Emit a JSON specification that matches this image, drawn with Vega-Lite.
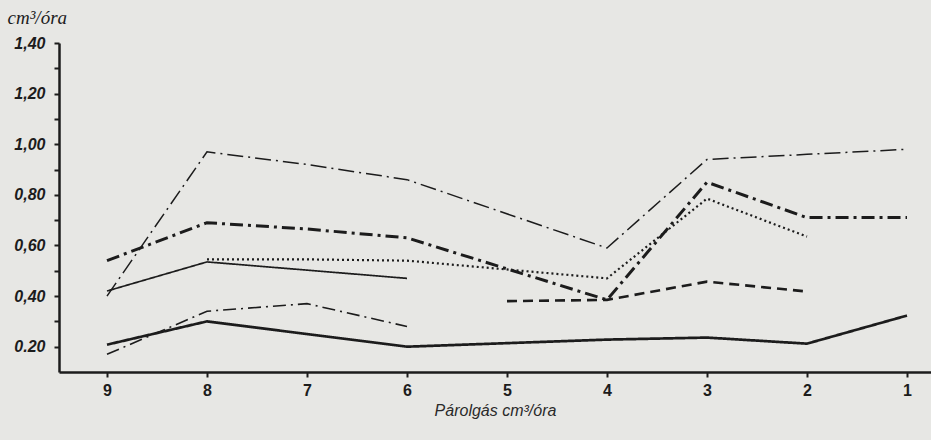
{
  "$schema": "https://vega.github.io/schema/vega-lite/v6.json",
  "width": 872,
  "height": 329,
  "autosize": {"type": "none"},
  "padding": {"left": 59, "top": 43, "right": 0, "bottom": 68},
  "background": "#e7e7e4",
  "config": {"view": {"stroke": null}},
  "data": {"values": [
    {"series": "A", "x": 9, "y": 0.40},
    {"series": "A", "x": 8, "y": 0.97},
    {"series": "A", "x": 7, "y": 0.92},
    {"series": "A", "x": 6, "y": 0.86},
    {"series": "A", "x": 4, "y": 0.59},
    {"series": "A", "x": 3, "y": 0.94},
    {"series": "A", "x": 2, "y": 0.96},
    {"series": "A", "x": 1, "y": 0.98},
    {"series": "B", "x": 9, "y": 0.54},
    {"series": "B", "x": 8, "y": 0.69},
    {"series": "B", "x": 7, "y": 0.665},
    {"series": "B", "x": 6, "y": 0.63},
    {"series": "B", "x": 4, "y": 0.385},
    {"series": "B", "x": 3, "y": 0.85},
    {"series": "B", "x": 2, "y": 0.71},
    {"series": "B", "x": 1, "y": 0.71},
    {"series": "C", "x": 8, "y": 0.545},
    {"series": "C", "x": 7, "y": 0.545},
    {"series": "C", "x": 6, "y": 0.54},
    {"series": "C", "x": 4, "y": 0.47},
    {"series": "C", "x": 3, "y": 0.785},
    {"series": "C", "x": 2, "y": 0.635},
    {"series": "D", "x": 9, "y": 0.42},
    {"series": "D", "x": 8, "y": 0.535},
    {"series": "D", "x": 6, "y": 0.47},
    {"series": "E", "x": 9, "y": 0.17},
    {"series": "E", "x": 8, "y": 0.34},
    {"series": "E", "x": 7, "y": 0.37},
    {"series": "E", "x": 6, "y": 0.28},
    {"series": "F", "x": 5, "y": 0.38},
    {"series": "F", "x": 4, "y": 0.385},
    {"series": "F", "x": 3, "y": 0.457},
    {"series": "F", "x": 2, "y": 0.418},
    {"series": "G", "x": 9, "y": 0.208},
    {"series": "G", "x": 8, "y": 0.30},
    {"series": "G", "x": 6, "y": 0.20},
    {"series": "G", "x": 4, "y": 0.228},
    {"series": "G", "x": 3, "y": 0.236},
    {"series": "G", "x": 2, "y": 0.212},
    {"series": "G", "x": 1, "y": 0.323}
  ]},
  "mark": {"type": "line", "color": "#1c1c1c", "strokeCap": "butt", "strokeJoin": "miter", "clip": false},
  "encoding": {
    "x": {
      "field": "x", "type": "quantitative",
      "scale": {"domain": [0.76, 9.48], "reverse": true, "nice": false, "zero": false},
      "axis": {
        "values": [1, 2, 3, 4, 5, 6, 7, 8, 9],
        "grid": false,
        "domainColor": "#1c1c1c", "domainWidth": 2.5,
        "tickColor": "#1c1c1c", "tickWidth": 2, "tickSize": 5,
        "labelFont": "Liberation Sans", "labelFontSize": 16, "labelFontWeight": "bold", "labelColor": "#1c1c1c",
        "labelPadding": 5,
        "title": "Párolgás   cm³/óra",
        "titleFont": "Liberation Sans", "titleFontSize": 16, "titleFontWeight": "normal",
        "titleFontStyle": "italic", "titleColor": "#2a2a2a",
        "titleY": 38, "titleBaseline": "middle"
      }
    },
    "y": {
      "field": "y", "type": "quantitative",
      "scale": {"domain": [0.10, 1.40], "nice": false, "zero": false},
      "axis": {
        "values": [0.2, 0.3, 0.4, 0.5, 0.6, 0.7, 0.8, 0.9, 1.0, 1.1, 1.2, 1.3, 1.4],
        "labelExpr": "round(datum.value*10) % 2 == 1 ? '' : (datum.value < 0.25 ? '0.20' : replace(format(datum.value, '.2f'), '.', ','))",
        "grid": false,
        "domainColor": "#1c1c1c", "domainWidth": 2.5,
        "tickColor": "#1c1c1c", "tickWidth": 2, "tickSize": 5,
        "labelFont": "Liberation Sans", "labelFontSize": 16, "labelFontStyle": "italic", "labelFontWeight": "bold",
        "labelColor": "#1c1c1c", "labelPadding": 9,
        "title": "cm³/óra",
        "titleAngle": 0, "titleAlign": "left", "titleBaseline": "middle",
        "titleX": -52, "titleY": -26,
        "titleFont": "Liberation Serif", "titleFontSize": 19, "titleFontStyle": "italic", "titleFontWeight": "normal",
        "titleColor": "#1c1c1c"
      }
    },
    "detail": {"field": "series"},
    "strokeDash": {
      "field": "series", "type": "nominal", "legend": null,
      "scale": {"domain": ["A", "B", "C", "D", "E", "F", "G"],
        "range": [[16, 5, 2, 5], [13, 5, 3, 5], [2, 3], [1, 0], [13, 5, 2, 5], [10, 6], [1, 0]]}
    },
    "strokeWidth": {
      "field": "series", "type": "nominal", "legend": null,
      "scale": {"type": "ordinal", "domain": ["A", "B", "C", "D", "E", "F", "G"],
        "range": [1.5, 3, 2.2, 1.7, 1.6, 2.6, 2.7]}
    }
  }
}
